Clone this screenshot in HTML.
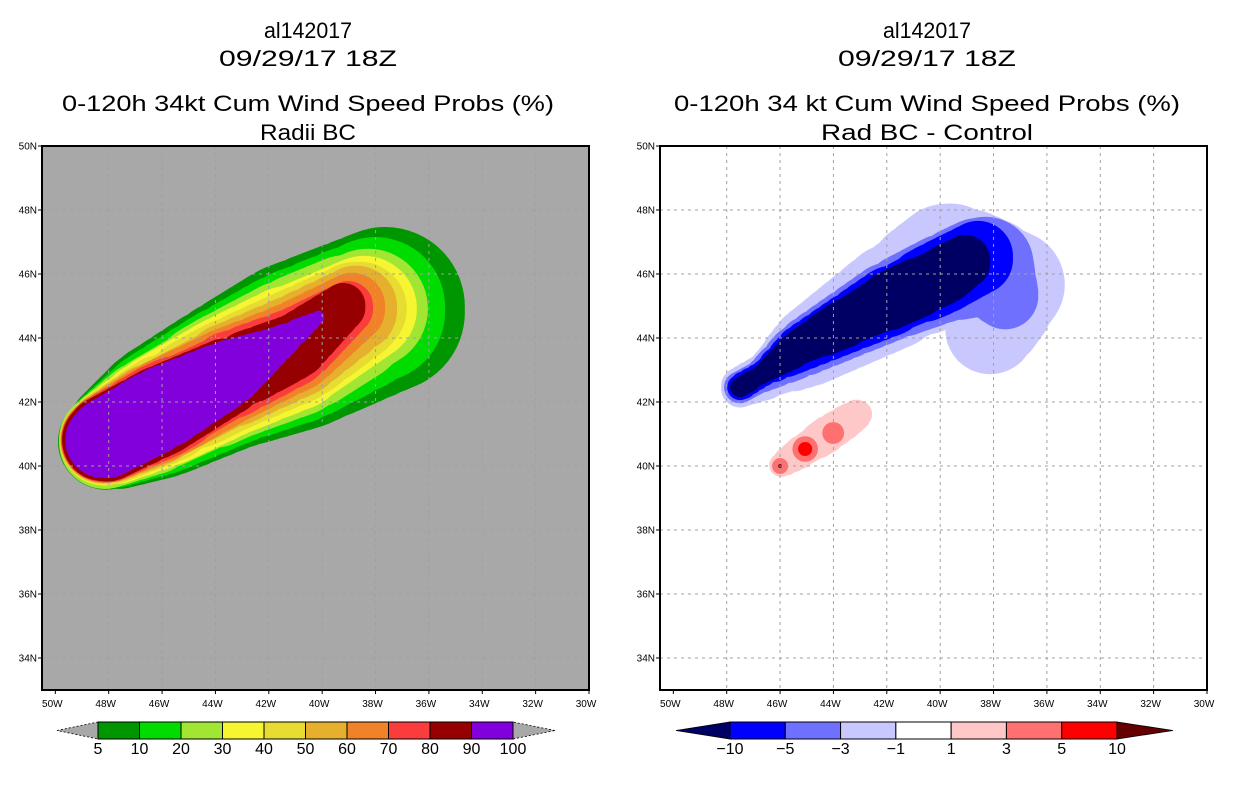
<!DOCTYPE html>
<html><head><meta charset="utf-8"><style>html,body{margin:0;padding:0;background:#fff}svg{display:block}text{font-family:"Liberation Sans",sans-serif}</style></head>
<body>
<svg id="fig" width="1236" height="800" viewBox="0 0 1236 800" xmlns="http://www.w3.org/2000/svg">
<rect width="1236" height="800" fill="#fff"/>
<g font-size="22" fill="#000" text-anchor="middle">
<text x="308" y="38" textLength="88" lengthAdjust="spacingAndGlyphs">al142017</text>
<text x="308" y="66" textLength="178" lengthAdjust="spacingAndGlyphs">09/29/17 18Z</text>
<text x="308" y="111" textLength="492" lengthAdjust="spacingAndGlyphs">0-120h 34kt Cum Wind Speed Probs (%)</text>
<text x="308" y="140" textLength="96" lengthAdjust="spacingAndGlyphs">Radii BC</text>
</g>
<g font-size="22" fill="#000" text-anchor="middle">
<text x="927" y="38" textLength="88" lengthAdjust="spacingAndGlyphs">al142017</text>
<text x="927" y="66" textLength="178" lengthAdjust="spacingAndGlyphs">09/29/17 18Z</text>
<text x="927" y="111" textLength="506" lengthAdjust="spacingAndGlyphs">0-120h 34 kt Cum Wind Speed Probs (%)</text>
<text x="927" y="140" textLength="212" lengthAdjust="spacingAndGlyphs">Rad BC - Control</text>
</g>
<g id="left"></g>
<g id="right"></g>
<g id="cbars"></g>
</svg>
<script>
// ---- data ----
const lonTicks = [50,48,46,44,42,40,38,36,34,32,30];
const latTicks = [34,36,38,40,42,44,46,48,50];
// left panel: probability levels, each a list of blobs of [lonW, latN, radiusDeg]
const leftLevels = [5,10,20,30,40,50,60,70,80,90];
const leftColors = ["#009600","#00dc00","#a0e632","#f5f532","#e6dc32","#e6af2d","#f08228","#fa3c3c","#960000","#8200dc"];
const leftNodes = [
 [[[48.10,40.76,1.50],[46.08,41.71,2.02],[43.56,42.80,2.24],[41.01,43.74,2.55],[37.64,44.89,2.49]]],
 [[[48.12,40.77,1.46],[46.08,41.71,1.90],[43.56,42.80,2.09],[41.01,43.74,2.31],[38.01,44.89,2.18]]],
 [[[48.14,40.78,1.43],[46.08,41.71,1.81],[43.56,42.80,1.93],[41.01,43.74,2.09],[38.28,44.92,1.87]]],
 [[[48.16,40.79,1.40],[46.08,41.71,1.71],[43.56,42.80,1.81],[41.01,43.74,1.90],[38.43,44.92,1.65]]],
 [[[48.18,40.80,1.38],[46.08,41.71,1.62],[43.56,42.80,1.68],[41.01,43.74,1.71],[38.58,44.92,1.46]]],
 [[[48.20,40.81,1.35],[46.08,41.71,1.56],[43.56,42.80,1.56],[41.01,43.74,1.53],[38.73,44.92,1.28]]],
 [[[48.21,40.81,1.32],[46.08,41.71,1.50],[43.56,42.80,1.43],[41.01,43.74,1.34],[38.88,44.95,1.03]]],
 [[[48.21,40.81,1.31],[46.08,41.71,1.43],[43.56,42.80,1.31],[41.01,43.74,1.15],[39.03,44.95,0.78]]],
 [[[48.21,40.81,1.28],[46.08,41.71,1.34],[43.56,42.80,1.15],[41.01,43.74,0.97],[39.21,44.98,0.69]]],
 [[[48.21,40.81,1.18],[46.08,41.78,1.25],[43.56,42.87,1.00],[41.84,43.71,0.56],[40.15,44.64,0.19]]]
];
// right panel: difference levels
const rightLevels = [-1,-3,-5,-10,1,3,5,10];
const rightColors = ["#c8c8ff","#7070ff","#0000ff","#000064","#ffc8c8","#ff7070","#ff0000","#640000"];
const rightNodes = [
 [[[47.50,42.46,0.59],[46.56,42.80,0.69],[44.88,43.74,1.18],[41.99,45.20,1.56],[39.63,46.39,1.81],[37.38,45.67,1.71],[38.13,44.27,1.40]]],
 [[[47.50,42.46,0.50],[46.68,42.83,0.50],[45.25,43.64,0.84],[41.99,45.11,1.18],[40.00,45.83,1.31],[38.31,46.29,1.50],[37.56,45.36,1.03]]],
 [[[47.50,42.46,0.40],[46.68,42.87,0.37],[45.25,43.68,0.69],[41.99,45.11,1.03],[40.00,45.89,1.12],[38.58,46.51,1.09]]],
 [[[47.50,42.46,0.31],[46.68,42.87,0.28],[45.25,43.74,0.56],[41.99,45.14,0.87],[40.00,45.89,0.90],[39.06,46.39,0.78]]],
 [[[45.96,40.03,0.37],[45.06,40.53,0.50],[43.94,41.15,0.56],[43.08,41.62,0.44]]],
 [[[46.00,40.00,0.25]],[[45.06,40.53,0.40]],[[44.01,41.03,0.34]]],
 [[[45.06,40.53,0.22]]],
 [[[46.00,40.00,0.06]]]
];
const leftBarLabels = ["5","10","20","30","40","50","60","70","80","90","100"];
const rightBarLabels = ["\u221210","\u22125","\u22123","\u22121","1","3","5","10"];
// ---- rendering ----
const NS="http://www.w3.org/2000/svg";
const PLOT_Y=146, PLOT_W=547, PLOT_H=544, LON0=50.5, LON1=30, LAT0=33, LAT1=50;
const PXLAT = PLOT_H/(LAT1-LAT0);
function mk(tag, attrs, parent){const e=document.createElementNS(NS,tag);for(const k in attrs)e.setAttribute(k,attrs[k]);parent.appendChild(e);return e;}
function xs(x0){return lon=>x0+(LON0-lon)/(LON0-LON1)*PLOT_W;}
function ys(lat){return PLOT_Y+(LAT1-lat)/(LAT1-LAT0)*PLOT_H;}
function circ(cx,cy,r){return `M${(cx+r).toFixed(1)} ${cy.toFixed(1)}A${r.toFixed(1)} ${r.toFixed(1)} 0 1 0 ${(cx-r).toFixed(1)} ${cy.toFixed(1)}A${r.toFixed(1)} ${r.toFixed(1)} 0 1 0 ${(cx+r).toFixed(1)} ${cy.toFixed(1)}Z`;}
function blobPath(blob,X){
  let d="";
  if(blob.length===1){const n=blob[0];return circ(X(n[0]),ys(n[1]),n[2]*PXLAT);}
  for(let i=0;i<blob.length-1;i++){
    const a=blob[i],b=blob[i+1];
    const ax=X(a[0]),ay=ys(a[1]),bx=X(b[0]),by=ys(b[1]);
    const steps=Math.max(2,Math.ceil(Math.hypot(bx-ax,by-ay)/2));
    for(let s=0;s<=steps;s++){const t=s/steps;
      d+=circ(ax+(bx-ax)*t,ay+(by-ay)*t,(a[2]+(b[2]-a[2])*t)*PXLAT);}
  }
  return d;
}
function panel(g,x0,bg,levels,colors,nodes,prefix){
  const X=xs(x0);
  const bgr=mk('rect',{x:x0,y:PLOT_Y,width:PLOT_W,height:PLOT_H,fill:bg},g);
  
  
  const cp=mk('clipPath',{id:prefix+'clip'},g);
  mk('rect',{x:x0,y:PLOT_Y,width:PLOT_W,height:PLOT_H},cp);
  const cg=mk('g',{'clip-path':`url(#${prefix}clip)`},g);
  levels.forEach((lv,i)=>{
    let d="";nodes[i].forEach(b=>{d+=blobPath(b,X);});
    const p=mk('path',{d:d,fill:colors[i],'fill-rule':'nonzero'},cg);
    
    
  });
  lonTicks.forEach(l=>{if(l<50&&l>30){const x=X(l);
    const gl=mk('line',{x1:x,y1:PLOT_Y,x2:x,y2:PLOT_Y+PLOT_H,stroke:'#a0a0a0','stroke-width':1,'stroke-dasharray':'3,4'},cg);
    
    }});
  latTicks.forEach(l=>{if(l<50){const y=ys(l);
    const gl=mk('line',{x1:x0,y1:y,x2:x0+PLOT_W,y2:y,stroke:'#a0a0a0','stroke-width':1,'stroke-dasharray':'3,4'},cg);
    
    }});
  const fr=mk('rect',{x:x0,y:PLOT_Y,width:PLOT_W,height:PLOT_H,fill:'none',stroke:'#000','stroke-width':2},g);
  
  
  lonTicks.forEach(l=>{const x=X(l);
    mk('line',{x1:x,y1:PLOT_Y+PLOT_H,x2:x,y2:PLOT_Y+PLOT_H+4,stroke:'#000','stroke-width':1},g);
    const t=mk('text',{x:Math.min(x-3,x0+PLOT_W+2),y:PLOT_Y+PLOT_H+17,'font-size':10,'text-anchor':'middle',fill:'#000'},g);
    t.textContent=l+'W';
    
    });
  latTicks.forEach(l=>{const y=ys(l);
    mk('line',{x1:x0-4,y1:y,x2:x0,y2:y,stroke:'#000','stroke-width':1},g);
    const t=mk('text',{x:x0-5,y:y+3.5,'font-size':10,'text-anchor':'end',fill:'#000'},g);
    t.textContent=l+'N';
    
    });
}
panel(document.getElementById('left'),42,'#a8a8a8',leftLevels,leftColors,leftNodes,'left');
panel(document.getElementById('right'),660,'#ffffff',rightLevels,rightColors,rightNodes,'right');
function cbar(g,x0,x1,tipL,tipR,cols,labels,lc,rc,prefix){
  const y0=722,y1=739,ym=(y0+y1)/2;
  const n=cols.length,w=(x1-x0)/n;
  const tl=mk('polygon',{points:`${tipL},${ym} ${x0},${y0} ${x0},${y1}`,fill:lc,stroke:'#000','stroke-width':0.8,'stroke-dasharray':lc==='#a8a8a8'?'2,2':'none'},g);
  
  
  const tr=mk('polygon',{points:`${tipR},${ym} ${x1},${y0} ${x1},${y1}`,fill:rc,stroke:'#000','stroke-width':0.8,'stroke-dasharray':rc==='#a8a8a8'?'2,2':'none'},g);
  
  
  cols.forEach((c,i)=>{
    const r=mk('rect',{x:x0+i*w,y:y0,width:w,height:y1-y0,fill:c,stroke:'#000','stroke-width':1},g);
    
    });
  labels.forEach((s,i)=>{
    const t=mk('text',{x:x0+i*w,y:754,'font-size':16,'text-anchor':'middle',fill:'#000'},g);
    t.textContent=s;
    
    });
}
const cb=document.getElementById('cbars');
cbar(cb,98,513,57,555,leftColors,leftBarLabels,'#a8a8a8','#a8a8a8','left');
cbar(cb,730,1117,676,1173,["#0000ff","#7070ff","#c8c8ff","#ffffff","#ffc8c8","#ff7070","#ff0000"],rightBarLabels,'#000064','#640000','right');
</script>
</body></html>
